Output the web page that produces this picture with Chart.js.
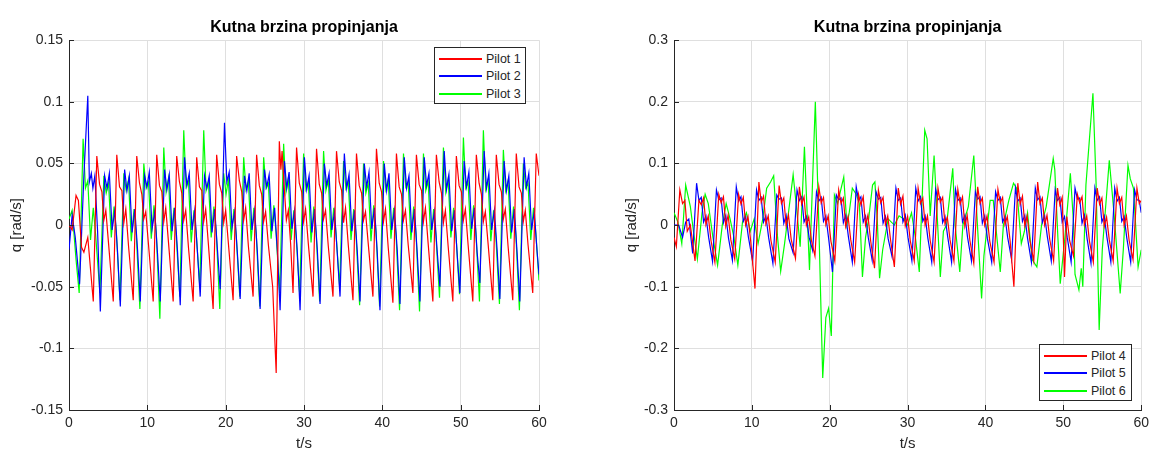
<!DOCTYPE html>
<html>
<head>
<meta charset="utf-8">
<script src="https://cdn.jsdelivr.net/npm/chart.js@4.4.0/dist/chart.umd.min.js"></script>
<style>
  body { margin: 0; background: #fff; font-family: "Liberation Sans", Arial, sans-serif; }
  #wrap { position: relative; width: 1154px; height: 455px; }
  canvas { position: absolute; top: 0; }
  .legend { position: absolute; background: #fff; border: 1px solid #262626; box-sizing: border-box; font-size: 12.5px; color: #262626; }
  .legend .row { position: absolute; left: 0; height: 16px; line-height: 16px; }
  .legend .swatch { position: absolute; left: 4px; top: 7px; width: 43px; height: 2px; }
  .legend .label { position: absolute; left: 51px; top: 0; white-space: nowrap; }
</style>
</head>
<body>
<div id="wrap">
  <canvas id="left" width="577" height="455" style="left:0"></canvas>
  <canvas id="right" width="577" height="455" style="left:577px"></canvas>
  <div id="legend-left" class="legend" style="left:434px; top:47px; width:92px; height:57px"></div>
  <div id="legend-right" class="legend" style="left:1039px; top:344px; width:93px; height:57px"></div>
</div>
<script>
const titleText = 'Kutna brzina propinjanja';
const xLabel = 't/s';
const yLabel = 'q [rad/s]';
const xTicks = [0, 10, 20, 30, 40, 50, 60];
const yTicksLeft = [-0.15, -0.1, -0.05, 0, 0.05, 0.1, 0.15];
const yTicksRight = [-0.3, -0.2, -0.1, 0, 0.1, 0.2, 0.3];

// Pilot 1 (left, red)
const p1T = [0, 0.4, 0.9, 1.2, 1.6, 1.9, 2.4,
  3.1, 3.55, 3.9, 4.2, 4.45, 4.7, 5.05,
  5.65, 6.1, 6.45, 6.75, 7.0, 7.25, 7.6,
  8.2, 8.65, 9.0, 9.3, 9.55, 9.8, 10.15,
  10.75, 11.2, 11.55, 11.85, 12.1, 12.35, 12.7,
  13.3, 13.75, 14.1, 14.4, 14.65, 14.9, 15.25,
  15.85, 16.3, 16.65, 16.95, 17.2, 17.45, 17.8,
  18.4, 18.85, 19.2, 19.5, 19.75, 20.0, 20.35,
  20.95, 21.4, 21.75, 22.05, 22.3, 22.55, 22.9,
  23.5, 23.95, 24.3, 24.6, 24.85, 25.1, 25.45,
  26.0, 26.45, 26.85, 27.05, 27.2, 27.5, 27.75, 28.0, 28.3,
  28.6, 29.05, 29.4, 29.7, 29.95, 30.2, 30.55,
  31.15, 31.6, 31.95, 32.25, 32.5, 32.75, 33.1,
  33.7, 34.15, 34.5, 34.8, 35.05, 35.3, 35.65,
  36.25, 36.7, 37.05, 37.35, 37.6, 37.85, 38.2,
  38.8, 39.25, 39.6, 39.9, 40.15, 40.4, 40.75,
  41.35, 41.8, 42.15, 42.45, 42.7, 42.95, 43.3,
  43.9, 44.35, 44.7, 45.0, 45.25, 45.5, 45.85,
  46.45, 46.9, 47.25, 47.55, 47.8, 48.05, 48.4,
  49.0, 49.45, 49.8, 50.1, 50.35, 50.6, 50.95,
  51.55, 52.0, 52.35, 52.65, 52.9, 53.15, 53.5,
  54.1, 54.55, 54.9, 55.2, 55.45, 55.7, 56.05,
  56.65, 57.1, 57.45, 57.75, 58.0, 58.25, 58.6,
  59.2, 59.65, 60.0];
const p1Q = [0.0, -0.004, 0.024, 0.02, -0.018, -0.022, -0.01,
  -0.062, 0.056, 0.033, 0.027, 0.004, 0.012, -0.015,
  -0.062, 0.057, 0.031, 0.028, 0.002, 0.013, -0.017,
  -0.061, 0.056, 0.034, 0.025, 0.005, 0.011, -0.016,
  -0.062, 0.057, 0.032, 0.027, 0.003, 0.014, -0.014,
  -0.062, 0.056, 0.035, 0.026, 0.004, 0.012, -0.018,
  -0.062, 0.055, 0.031, 0.028, 0.003, 0.013, -0.016,
  -0.068, 0.057, 0.033, 0.026, 0.002, 0.012, -0.015,
  -0.061, 0.056, 0.036, 0.027, 0.004, 0.014, -0.017,
  -0.058, 0.057, 0.032, 0.025, 0.003, 0.011, -0.016,
  -0.05, -0.12, 0.068, 0.045, 0.06, 0.028, 0.004, 0.012, -0.016,
  -0.055, 0.063, 0.034, 0.027, 0.003, 0.013, -0.015,
  -0.058, 0.062, 0.033, 0.026, 0.005, 0.012, -0.017,
  -0.058, 0.06, 0.035, 0.028, 0.002, 0.014, -0.016,
  -0.061, 0.058, 0.032, 0.026, 0.004, 0.011, -0.015,
  -0.058, 0.062, 0.034, 0.027, 0.003, 0.013, -0.018,
  -0.063, 0.058, 0.031, 0.025, 0.004, 0.012, -0.016,
  -0.055, 0.057, 0.033, 0.028, 0.003, 0.014, -0.015,
  -0.062, 0.057, 0.035, 0.026, 0.002, 0.012, -0.017,
  -0.062, 0.056, 0.032, 0.027, 0.004, 0.013, -0.016,
  -0.062, 0.057, 0.034, 0.025, 0.003, 0.011, -0.015,
  -0.061, 0.057, 0.033, 0.027, 0.005, 0.013, -0.017,
  -0.061, 0.058, 0.031, 0.026, 0.003, 0.012, -0.016,
  -0.055, 0.058, 0.04];

// Pilot 2 (left, blue)
const p2T = [0, 0.4, 0.8, 1.35, 1.9, 2.4, 2.6, 2.85, 3.05, 3.3, 3.65,
  4.0, 4.55, 4.85, 5.15, 5.5, 5.85, 6.2,
  6.55, 7.1, 7.4, 7.7, 8.05, 8.4, 8.75,
  9.1, 9.65, 9.95, 10.25, 10.6, 10.95, 11.3,
  11.65, 12.2, 12.5, 12.8, 13.15, 13.5, 13.85,
  14.2, 14.75, 15.05, 15.35, 15.7, 16.05, 16.4,
  16.75, 17.3, 17.6, 17.9, 18.25, 18.6, 18.95,
  19.3, 19.85, 20.15, 20.45, 20.8, 21.15, 21.5,
  21.85, 22.4, 22.7, 23.0, 23.35, 23.7, 24.05,
  24.4, 24.95, 25.25, 25.55, 25.9, 26.25, 26.6,
  26.95, 27.5, 27.8, 28.1, 28.45, 28.8, 29.15,
  29.5, 30.05, 30.35, 30.65, 31.0, 31.35, 31.7,
  32.05, 32.6, 32.9, 33.2, 33.55, 33.9, 34.25,
  34.6, 35.15, 35.45, 35.75, 36.1, 36.45, 36.8,
  37.15, 37.7, 38.0, 38.3, 38.65, 39.0, 39.35,
  39.7, 40.25, 40.55, 40.85, 41.2, 41.55, 41.9,
  42.25, 42.8, 43.1, 43.4, 43.75, 44.1, 44.45,
  44.8, 45.35, 45.65, 45.95, 46.3, 46.65, 47.0,
  47.35, 47.9, 48.2, 48.5, 48.85, 49.2, 49.55,
  49.9, 50.45, 50.75, 51.05, 51.4, 51.75, 52.1,
  52.45, 53.0, 53.3, 53.6, 53.95, 54.3, 54.65,
  55.0, 55.55, 55.85, 56.15, 56.5, 56.85, 57.2,
  57.55, 58.1, 58.4, 58.7, 59.05, 59.4, 59.75,
  60.0];
const p2Q = [-0.02, 0.008, -0.01, -0.048, 0.04, 0.105, 0.035, 0.042, 0.03, 0.04, -0.005,
  -0.07, 0.04, 0.03, 0.042, -0.004, 0.012, -0.022,
  -0.066, 0.045, 0.028, 0.04, -0.006, 0.013, -0.02,
  -0.062, 0.04, 0.031, 0.043, -0.003, 0.011, -0.023,
  -0.062, 0.045, 0.029, 0.041, -0.005, 0.014, -0.021,
  -0.065, 0.055, 0.032, 0.042, -0.004, 0.012, -0.022,
  -0.058, 0.04, 0.03, 0.04, -0.006, 0.013, -0.02,
  -0.052, 0.083, 0.035, 0.043, -0.002, 0.011, -0.023,
  -0.06, 0.04, 0.028, 0.042, -0.004, 0.012, -0.022,
  -0.068, 0.045, 0.031, 0.041, -0.005, 0.014, -0.021,
  -0.069, 0.052, 0.03, 0.043, -0.003, 0.012, -0.022,
  -0.069, 0.055, 0.029, 0.04, -0.006, 0.013, -0.02,
  -0.064, 0.05, 0.032, 0.042, -0.004, 0.011, -0.023,
  -0.058, 0.058, 0.03, 0.041, -0.005, 0.012, -0.021,
  -0.062, 0.05, 0.031, 0.043, -0.003, 0.014, -0.022,
  -0.069, 0.05, 0.028, 0.042, -0.004, 0.012, -0.02,
  -0.064, 0.055, 0.03, 0.04, -0.006, 0.013, -0.022,
  -0.062, 0.055, 0.032, 0.042, -0.004, 0.011, -0.021,
  -0.05, 0.06, 0.029, 0.041, -0.005, 0.012, -0.023,
  -0.055, 0.052, 0.031, 0.043, -0.003, 0.014, -0.022,
  -0.047, 0.06, 0.03, 0.042, -0.004, 0.012, -0.02,
  -0.06, 0.052, 0.028, 0.04, -0.006, 0.013, -0.022,
  -0.062, 0.055, 0.031, 0.042, -0.004, 0.011, -0.021,
  -0.04];

// Pilot 3 (left, green)
const p3T = [0, 0.4, 0.9,
  1.3, 1.8, 2.1, 2.4, 2.75, 3.1, 3.4,
  3.95, 4.45, 4.75, 5.05, 5.4, 5.75, 6.05,
  6.5, 7.0, 7.3, 7.6, 7.95, 8.3, 8.6,
  9.05, 9.55, 9.85, 10.15, 10.5, 10.85, 11.15,
  11.6, 12.1, 12.4, 12.7, 13.05, 13.4, 13.7,
  14.15, 14.65, 14.95, 15.25, 15.6, 15.95, 16.25,
  16.7, 17.2, 17.5, 17.8, 18.15, 18.5, 18.8,
  19.25, 19.75, 20.05, 20.35, 20.7, 21.05, 21.35,
  21.8, 22.3, 22.6, 22.9, 23.25, 23.6, 23.9,
  24.35, 24.85, 25.15, 25.45, 25.8, 26.15, 26.45,
  26.9, 27.4, 27.7, 28.0, 28.35, 28.7, 29.0,
  29.45, 29.95, 30.25, 30.55, 30.9, 31.25, 31.55,
  32.0, 32.5, 32.8, 33.1, 33.45, 33.8, 34.1,
  34.55, 35.05, 35.35, 35.65, 36.0, 36.35, 36.65,
  37.1, 37.6, 37.9, 38.2, 38.55, 38.9, 39.2,
  39.65, 40.15, 40.45, 40.75, 41.1, 41.45, 41.75,
  42.2, 42.7, 43.0, 43.3, 43.65, 44.0, 44.3,
  44.75, 45.25, 45.55, 45.85, 46.2, 46.55, 46.85,
  47.3, 47.8, 48.1, 48.4, 48.75, 49.1, 49.4,
  49.85, 50.35, 50.65, 50.95, 51.3, 51.65, 51.95,
  52.4, 52.9, 53.2, 53.5, 53.85, 54.2, 54.5,
  54.95, 55.45, 55.75, 56.05, 56.4, 56.75, 57.05,
  57.5, 58.0, 58.3, 58.6, 58.95, 59.3, 59.6,
  60.0];
const p3Q = [0.005, 0.012, -0.028,
  -0.055, 0.07, 0.03, 0.036, -0.012, 0.014, -0.008,
  -0.055, 0.04, 0.026, 0.034, -0.01, 0.015, -0.006,
  -0.061, 0.042, 0.028, 0.037, -0.013, 0.013, -0.009,
  -0.068, 0.05, 0.03, 0.035, -0.011, 0.016, -0.007,
  -0.076, 0.063, 0.027, 0.038, -0.012, 0.014, -0.01,
  -0.058, 0.077, 0.031, 0.036, -0.014, 0.012, -0.008,
  -0.05, 0.077, 0.028, 0.035, -0.01, 0.015, -0.006,
  -0.068, 0.042, 0.025, 0.037, -0.012, 0.013, -0.009,
  -0.058, 0.055, 0.029, 0.036, -0.013, 0.014, -0.007,
  -0.066, 0.055, 0.03, 0.034, -0.011, 0.016, -0.008,
  -0.055, 0.066, 0.027, 0.038, -0.012, 0.012, -0.01,
  -0.056, 0.058, 0.029, 0.035, -0.014, 0.015, -0.007,
  -0.062, 0.06, 0.028, 0.037, -0.01, 0.014, -0.008,
  -0.05, 0.052, 0.03, 0.036, -0.012, 0.013, -0.009,
  -0.065, 0.05, 0.026, 0.034, -0.013, 0.016, -0.006,
  -0.066, 0.052, 0.029, 0.037, -0.011, 0.014, -0.008,
  -0.069, 0.058, 0.031, 0.035, -0.012, 0.015, -0.007,
  -0.07, 0.058, 0.028, 0.036, -0.014, 0.013, -0.009,
  -0.059, 0.063, 0.027, 0.038, -0.01, 0.014, -0.008,
  -0.056, 0.071, 0.03, 0.035, -0.012, 0.016, -0.007,
  -0.062, 0.077, 0.029, 0.037, -0.013, 0.012, -0.01,
  -0.064, 0.061, 0.028, 0.036, -0.011, 0.015, -0.008,
  -0.069, 0.05, 0.03, 0.034, -0.012, 0.014, -0.007,
  -0.045];

// Pilot 4 (right, red)
const p4T = [0, 0.3, 0.75, 1.1, 1.4, 1.7, 2.1,
  2.7, 3.2, 3.5, 3.8, 4.1, 4.4, 4.75,
  5.25, 5.75, 6.05, 6.35, 6.65, 6.95, 7.3,
  7.8, 8.3, 8.6, 8.9, 9.2, 9.5, 9.85,
  10.4, 10.9, 11.2, 11.5, 11.8, 12.1, 12.45,
  13.0, 13.5, 13.8, 14.1, 14.4, 14.7, 15.05,
  15.6, 16.1, 16.4, 16.7, 17.0, 17.3, 17.65,
  18.1, 18.6, 18.9, 19.2, 19.5, 19.8, 20.15,
  20.65, 21.15, 21.45, 21.75, 22.05, 22.35, 22.7,
  23.2, 23.7, 24.0, 24.3, 24.6, 24.9, 25.25,
  25.75, 26.25, 26.55, 26.85, 27.15, 27.45, 27.8,
  28.3, 28.8, 29.1, 29.4, 29.7, 30.0, 30.35,
  30.85, 31.35, 31.65, 31.95, 32.25, 32.55, 32.9,
  33.4, 33.9, 34.2, 34.5, 34.8, 35.1, 35.45,
  35.95, 36.45, 36.75, 37.05, 37.35, 37.65, 38.0,
  38.5, 39.0, 39.3, 39.6, 39.9, 40.2, 40.55,
  41.1, 41.6, 41.9, 42.2, 42.5, 42.8, 43.15,
  43.65, 44.15, 44.45, 44.75, 45.05, 45.35, 45.7,
  46.2, 46.7, 47.0, 47.3, 47.6, 47.9, 48.25,
  48.75, 49.25, 49.55, 49.85, 50.15, 50.45, 50.8,
  51.3, 51.8, 52.1, 52.4, 52.7, 53.0, 53.35,
  53.85, 54.35, 54.65, 54.95, 55.25, 55.55, 55.9,
  56.4, 56.9, 57.2, 57.5, 57.8, 58.1, 58.45,
  58.95, 59.45, 59.75, 60.0];
const p4Q = [-0.02, -0.035, 0.057, 0.035, 0.04, -0.01, 0.0,
  -0.058, 0.04, 0.033, 0.044, 0.001, 0.015, -0.025,
  -0.06, 0.05, 0.036, 0.046, -0.002, 0.016, -0.024,
  -0.055, 0.05, 0.034, 0.045, 0.0, 0.014, -0.026,
  -0.103, 0.07, 0.037, 0.047, 0.002, 0.015, -0.025,
  -0.06, 0.064, 0.035, 0.044, -0.001, 0.016, -0.023,
  -0.054, 0.062, 0.034, 0.046, 0.0, 0.013, -0.025,
  -0.05, 0.062, 0.036, 0.045, 0.001, 0.015, -0.026,
  -0.058, 0.057, 0.035, 0.044, -0.002, 0.014, -0.024,
  -0.06, 0.05, 0.033, 0.046, 0.0, 0.016, -0.025,
  -0.07, 0.057, 0.036, 0.045, 0.001, 0.015, -0.023,
  -0.068, 0.06, 0.034, 0.047, -0.001, 0.014, -0.026,
  -0.058, 0.06, 0.035, 0.044, 0.0, 0.015, -0.025,
  -0.06, 0.06, 0.037, 0.045, 0.002, 0.013, -0.024,
  -0.058, 0.058, 0.034, 0.046, -0.002, 0.016, -0.025,
  -0.062, 0.062, 0.035, 0.044, 0.0, 0.015, -0.026,
  -0.06, 0.058, 0.036, 0.045, 0.001, 0.014, -0.024,
  -0.1, 0.068, 0.034, 0.047, -0.001, 0.015, -0.025,
  -0.058, 0.07, 0.035, 0.044, 0.0, 0.016, -0.023,
  -0.058, 0.06, 0.033, 0.045, -0.084, 0.014, -0.025,
  -0.05, 0.05, 0.036, 0.046, 0.001, 0.015, -0.026,
  -0.06, 0.06, 0.034, 0.044, -0.002, 0.013, -0.024,
  -0.058, 0.06, 0.035, 0.045, 0.0, 0.015, -0.025,
  -0.056, 0.06, 0.035, 0.04];

// Pilot 5 (right, blue)
const p5T = [0, 0.6, 1.1, 1.5, 1.9,
  2.4, 2.9, 3.2, 3.5, 3.8, 4.1, 4.45,
  4.95, 5.45, 5.75, 6.05, 6.35, 6.65, 7.0,
  7.5, 8.0, 8.3, 8.6, 8.9, 9.2, 9.55,
  10.1, 10.6, 10.9, 11.2, 11.5, 11.8, 12.15,
  12.7, 13.2, 13.5, 13.8, 14.1, 14.4, 14.75,
  15.3, 15.8, 16.1, 16.4, 16.7, 17.0, 17.35,
  17.8, 18.3, 18.6, 18.9, 19.2, 19.5, 19.85,
  20.35, 20.85, 21.15, 21.45, 21.75, 22.05, 22.4,
  22.9, 23.4, 23.7, 24.0, 24.3, 24.6, 24.95,
  25.45, 25.95, 26.25, 26.55, 26.85, 27.15, 27.5,
  28.0, 28.5, 28.8, 29.1, 29.4, 29.7, 30.05,
  30.55, 31.05, 31.35, 31.65, 31.95, 32.25, 32.6,
  33.1, 33.6, 33.9, 34.2, 34.5, 34.8, 35.15,
  35.65, 36.15, 36.45, 36.75, 37.05, 37.35, 37.7,
  38.2, 38.7, 39.0, 39.3, 39.6, 39.9, 40.25,
  40.8, 41.3, 41.6, 41.9, 42.2, 42.5, 42.85,
  43.35, 43.85, 44.15, 44.45, 44.75, 45.05, 45.4,
  45.9, 46.4, 46.7, 47.0, 47.3, 47.6, 47.95,
  48.45, 48.95, 49.25, 49.55, 49.85, 50.15, 50.5,
  51.0, 51.5, 51.8, 52.1, 52.4, 52.7, 53.05,
  53.55, 54.05, 54.35, 54.65, 54.95, 55.25, 55.6,
  56.1, 56.6, 56.9, 57.2, 57.5, 57.8, 58.15,
  58.65, 59.15, 59.45, 59.75, 60.0];
const p5Q = [0.0, 0.0, -0.02, 0.005, 0.01,
  -0.046, 0.068, 0.04, 0.045, 0.005, 0.015, -0.02,
  -0.059, 0.057, 0.041, 0.044, 0.004, 0.016, -0.021,
  -0.057, 0.062, 0.039, 0.046, 0.006, 0.014, -0.019,
  -0.059, 0.057, 0.04, 0.045, 0.005, 0.015, -0.02,
  -0.062, 0.049, 0.042, 0.044, 0.003, 0.016, -0.022,
  -0.045, 0.057, 0.04, 0.046, 0.005, 0.014, -0.02,
  -0.041, 0.054, 0.039, 0.045, 0.006, 0.015, -0.021,
  -0.076, 0.049, 0.041, 0.044, 0.004, 0.016, -0.019,
  -0.06, 0.062, 0.04, 0.046, 0.005, 0.015, -0.02,
  -0.057, 0.054, 0.042, 0.045, 0.003, 0.014, -0.022,
  -0.051, 0.06, 0.04, 0.044, 0.005, 0.016, -0.02,
  -0.058, 0.06, 0.039, 0.046, 0.006, 0.015, -0.021,
  -0.06, 0.058, 0.041, 0.045, 0.004, 0.014, -0.019,
  -0.06, 0.058, 0.04, 0.044, 0.005, 0.016, -0.02,
  -0.058, 0.054, 0.042, 0.046, 0.003, 0.015, -0.022,
  -0.06, 0.054, 0.04, 0.045, 0.005, 0.014, -0.02,
  -0.055, 0.06, 0.039, 0.044, 0.006, 0.016, -0.021,
  -0.06, 0.06, 0.041, 0.046, 0.004, 0.015, -0.019,
  -0.058, 0.057, 0.04, 0.045, 0.005, 0.014, -0.02,
  -0.06, 0.06, 0.042, 0.044, 0.003, 0.016, -0.022,
  -0.062, 0.06, 0.04, 0.046, 0.005, 0.015, -0.02,
  -0.06, 0.06, 0.039, 0.045, 0.006, 0.014, -0.021,
  -0.06, 0.057, 0.041, 0.04, 0.02];

// Pilot 6 (right, green)
const p6T = [0, 0.5, 1.0, 1.5, 2.1, 2.5, 3.0, 3.6, 4.0, 4.4,
  5.0, 5.6, 6.2, 6.7, 7.2, 7.7, 8.2, 8.8, 9.3, 9.8,
  10.3, 10.8, 11.4, 11.9, 12.4, 12.8, 13.3, 13.7, 14.2, 14.7,
  15.3, 15.8, 16.2, 16.75, 17.4, 18.15, 18.6, 19.1, 19.5, 19.85,
  20.2, 20.6, 21.0, 21.8, 22.2, 22.5, 22.9, 23.4, 23.8, 24.2,
  24.6, 25.0, 25.5, 25.8, 26.1, 26.4, 26.8, 27.5, 28.3, 28.9,
  29.5, 30.0, 30.5, 31.0, 31.5, 32.2, 32.5, 32.9, 33.4, 33.8,
  34.2, 34.6, 35.0, 35.8, 36.1, 36.7, 37.1, 37.8, 38.5, 38.9,
  39.5, 39.8, 40.6, 41.0, 41.9, 42.3, 43.0, 43.6, 44.0, 44.6,
  45.0, 45.4, 46.0, 46.6, 47.2, 47.8, 48.7, 48.9, 49.3, 49.6,
  50.2, 50.9, 51.3, 51.5, 52.0, 52.3, 52.5, 52.9, 53.8, 54.2,
  54.6, 55.0, 55.9, 56.5, 57.3, 57.7, 58.3, 58.6, 59.0, 59.6,
  60.0];
const p6Q = [0.02, 0.005, -0.03, 0.065, 0.03, -0.01, -0.055, 0.02, 0.05, 0.035,
  -0.02, -0.065, 0.0, 0.035, 0.01, -0.02, -0.065, 0.005, 0.02, -0.01,
  0.01, -0.03, 0.01, 0.06, 0.07, 0.08, -0.02, -0.075, -0.03, 0.02,
  0.082, 0.02, -0.035, 0.127, -0.073, 0.2, 0.0, -0.248, -0.15, -0.135,
  -0.18, 0.049, 0.035, 0.078, 0.0, 0.02, 0.06, 0.05, 0.035, -0.084,
  -0.02, 0.01, 0.065, 0.07, 0.01, -0.086, -0.04, 0.01, 0.0, 0.015,
  0.01, 0.0, 0.02, -0.02, -0.076, 0.154, 0.14, 0.015, 0.113, 0.015,
  -0.084, -0.01, 0.0, 0.092, 0.0, -0.076, 0.0, 0.03, 0.113, 0.015,
  -0.119, -0.05, 0.04, 0.04, -0.076, 0.0, 0.04, 0.068, 0.06, -0.03,
  -0.01, 0.02, -0.056, -0.068, 0.0, 0.03, 0.108, 0.09, -0.02, -0.095,
  -0.02, 0.084, 0.005, -0.08, -0.105, -0.07, -0.1, 0.065, 0.214, 0.07,
  -0.17, -0.04, 0.105, 0.02, -0.111, -0.04, 0.097, 0.075, 0.06, -0.068,
  -0.04];

const leftSeries = [
  { label: 'Pilot 1', t: p1T, q: p1Q, color: '#ff0000' },
  { label: 'Pilot 2', t: p2T, q: p2Q, color: '#0000ff' },
  { label: 'Pilot 3', t: p3T, q: p3Q, color: '#00ff00' },
];
const rightSeries = [
  { label: 'Pilot 4', t: p4T, q: p4Q, color: '#ff0000' },
  { label: 'Pilot 5', t: p5T, q: p5Q, color: '#0000ff' },
  { label: 'Pilot 6', t: p6T, q: p6Q, color: '#00ff00' },
];

const FONT = '"Liberation Sans", Arial, Helvetica, sans-serif';
const AXIS = '#262626';
const GRID = '#dfdfdf';

function toPoints(ts, qs) {
  const n = Math.min(ts.length, qs.length);
  const pts = [];
  for (let i = 0; i < n; i++) pts.push({ x: ts[i], y: qs[i] });
  return pts;
}

// MATLAB style ticks pointing into the axes
const innerTicks = {
  id: 'innerTicks',
  afterDraw(chart) {
    const { ctx, chartArea: a, scales } = chart;
    ctx.save();
    ctx.strokeStyle = AXIS;
    ctx.lineWidth = 1;
    ctx.beginPath();
    scales.x.ticks.forEach((tk) => {
      const px = Math.round(scales.x.getPixelForValue(tk.value)) + 0.5;
      ctx.moveTo(px, a.bottom);
      ctx.lineTo(px, a.bottom - 5);
    });
    scales.y.ticks.forEach((tk) => {
      const py = Math.round(scales.y.getPixelForValue(tk.value)) + 0.5;
      ctx.moveTo(a.left, py);
      ctx.lineTo(a.left + 5, py);
    });
    ctx.stroke();
    ctx.restore();
  },
};

function makeChart(id, series, yTicks, yMin, yMax, padLeft, yWidth, padRight) {
  const ctx = document.getElementById(id).getContext('2d');
  return new Chart(ctx, {
    type: 'line',
    data: {
      datasets: series.map((s) => ({
        label: s.label,
        data: toPoints(s.t, s.q),
        borderColor: s.color,
        backgroundColor: s.color,
        borderWidth: 1.2,
        pointRadius: 0,
        tension: 0,
        fill: false,
      })),
    },
    options: {
      responsive: false,
      animation: false,
      devicePixelRatio: 1,
      layout: { padding: { left: padLeft, right: padRight, top: 0, bottom: 0 } },
      plugins: {
        legend: { display: false },
        tooltip: { enabled: false },
        title: {
          display: true,
          text: titleText,
          fullSize: false,
          color: '#000',
          font: { family: FONT, size: 16, weight: 'bold' },
          padding: { top: 18, bottom: 3 },
        },
      },
      scales: {
        x: {
          type: 'linear',
          min: 0,
          max: 60,
          afterBuildTicks: (s) => { s.ticks = xTicks.map((v) => ({ value: v })); },
          afterFit: (s) => { s.height = 45; },
          ticks: { color: AXIS, font: { family: FONT, size: 14 }, padding: 5, maxRotation: 0, callback: (v) => String(v) },
          grid: { color: GRID, drawTicks: false },
          border: { color: AXIS, width: 1 },
          title: { display: true, text: xLabel, color: AXIS, font: { family: FONT, size: 15 }, padding: { top: 0, bottom: 2 } },
        },
        y: {
          type: 'linear',
          min: yMin,
          max: yMax,
          afterBuildTicks: (s) => { s.ticks = yTicks.map((v) => ({ value: v })); },
          afterFit: (s) => { s.width = yWidth; },
          ticks: { color: AXIS, font: { family: FONT, size: 14 }, padding: 6, callback: (v) => String(v) },
          grid: { color: GRID, drawTicks: false },
          border: { color: AXIS, width: 1 },
          title: { display: true, text: yLabel, color: AXIS, font: { family: FONT, size: 15 }, padding: { top: 4, bottom: 0 } },
        },
      },
    },
    plugins: [innerTicks],
  });
}

function buildLegend(id, series) {
  const box = document.getElementById(id);
  const rowTops = [3, 20, 38];
  series.forEach((s, i) => {
    const row = document.createElement('div');
    row.className = 'row';
    row.style.top = rowTops[i] + 'px';
    const sw = document.createElement('span');
    sw.className = 'swatch';
    sw.style.background = s.color;
    const lb = document.createElement('span');
    lb.className = 'label';
    lb.textContent = s.label;
    row.appendChild(sw);
    row.appendChild(lb);
    box.appendChild(row);
  });
}

makeChart('left', leftSeries, yTicksLeft, -0.15, 0.15, 4, 65, 38);
makeChart('right', rightSeries, yTicksRight, -0.3, 0.3, 42, 55, 11);
buildLegend('legend-left', leftSeries);
buildLegend('legend-right', rightSeries);
</script>
</body>
</html>
